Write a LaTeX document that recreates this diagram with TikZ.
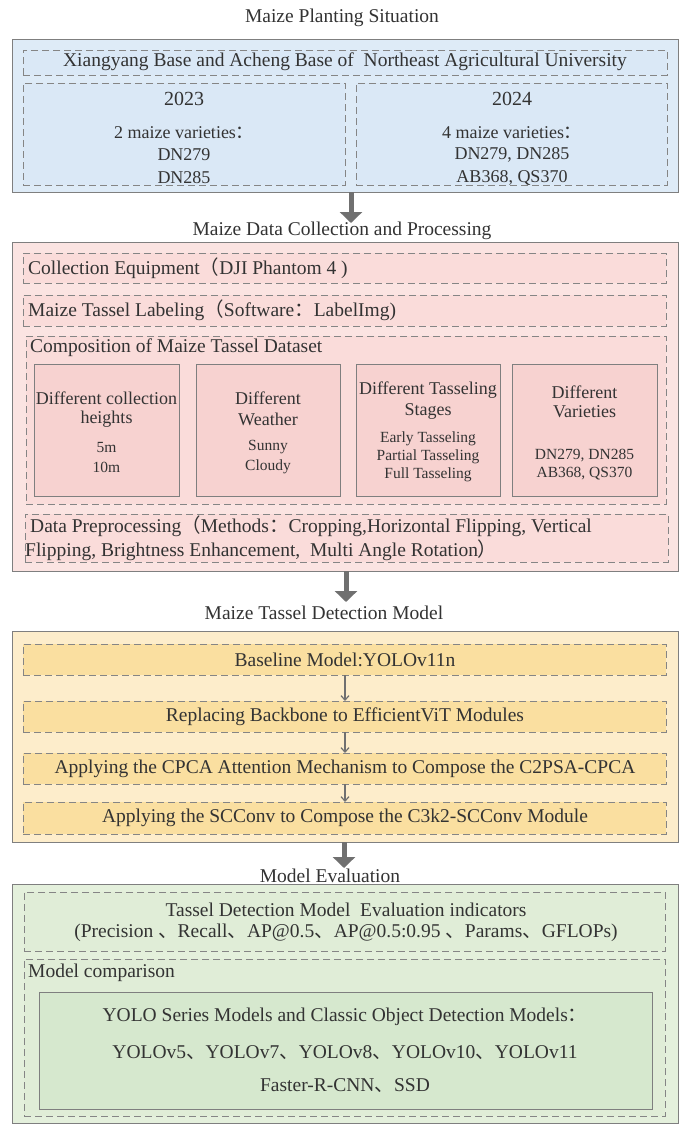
\documentclass[tikz,border=0pt]{standalone}
\usepackage{fontspec}
\setmainfont{Liberation Serif}
\newfontfamily\cjk{Noto Sans CJK SC}
\usetikzlibrary{arrows.meta,fit}
\newcommand{\zcolon}{{\cjk ：}}
\newcommand{\zlp}{{\cjk （}}
\newcommand{\zrp}{{\cjk ）}}
\newcommand{\zcomma}{{\cjk 、}}
\definecolor{edge}{HTML}{7F7F7F}
\definecolor{dashc}{HTML}{858585}
\definecolor{txt}{HTML}{333333}
\definecolor{blueO}{HTML}{DEEBF7}
\definecolor{blueI}{HTML}{DAE8F6}
\definecolor{pinkO}{HTML}{FBE4E2}
\definecolor{pinkI}{HTML}{FADCDA}
\definecolor{pinkS}{HTML}{F7D2D0}
\definecolor{yelO}{HTML}{FDEDCB}
\definecolor{yelI}{HTML}{FADFA0}
\definecolor{grnO}{HTML}{E4F0DC}
\definecolor{grnI}{HTML}{E0EDD7}
\definecolor{grnS}{HTML}{D6E8CE}
\definecolor{arr}{HTML}{707070}
\tikzset{
  box/.style={inner sep=0pt, outer sep=0pt},
  outerbox/.style={box, draw=edge, line width=1pt},
  dbox/.style={box, draw=dashc, line width=0.9pt, dash pattern=on 7pt off 4pt},
  sbox/.style={box, draw=edge, line width=0.9pt},
  tm/.style={font=\fontsize{19.5}{21}\selectfont, text=txt, inner sep=0pt},
  th/.style={font=\fontsize{18}{21}\selectfont, text=txt, inner sep=0pt},
  ts/.style={font=\fontsize{15.5}{18}\selectfont, text=txt, inner sep=0pt},
  bigarrow/.style={draw=arr, line width=5pt, -{Triangle[width=22pt,length=11pt]}},
  smallarrow/.style={draw=arr, line width=1.2pt, -{Straight Barb[width=8pt,length=4.5pt]}},
}
\begin{document}
\begin{tikzpicture}[x=1pt,y=-1pt]
\useasboundingbox[fill=white] (0,0) rectangle (689,1127);

% ---------- Section 1 ----------
\node[tm] (t1) at (342,18) {Maize Planting Situation};
\node[outerbox, fill=blueO, fit={(12,39) (678,192)}] (b1) {};
\node[dbox, fill=blueI, fit={(23,50) (667,75)}] (b1a) {};
\node[dbox, fill=blueI, fit={(23,83) (345,185)}] (b1b) {};
\node[dbox, fill=blueI, fit={(356,83) (667,185)}] (b1c) {};
\node[tm] (x1) at (345,62) {Xiangyang Base and Acheng Base of\ \ Northeast Agricultural University};
\node[tm, font=\fontsize{20}{22}\selectfont] (y23) at (184,99) {2023};
\node[th] (v23) at (184,133) {2 maize varieties\zcolon};
\node[th] (v23a) at (184,155) {DN279};
\node[th] (v23b) at (184,178) {DN285};
\node[tm, font=\fontsize{20}{22}\selectfont] (y24) at (512,99) {2024};
\node[th] (v24) at (512,133) {4 maize varieties\zcolon};
\node[th] (v24a) at (512,155) {DN279, DN285};
\node[th] (v24b) at (512,178) {AB368, QS370};

\coordinate (a1e) at (351,223);
\draw[bigarrow] (b1.south -| a1e) -- (a1e);

% ---------- Section 2 ----------
\node[tm] (t2) at (342,231) {Maize Data Collection and Processing};
\node[outerbox, fill=pinkO, fit={(12,242) (678,571)}] (b2) {};
\node[dbox, fill=pinkI, fit={(23,253) (666,283)}] (b2a) {};
\node[dbox, fill=pinkI, fit={(23,295) (666,326)}] (b2b) {};
\node[dbox, fill=pinkI, fit={(26,336) (666,504)}] (b2c) {};
\node[dbox, fill=pinkI, fit={(25,514) (668,562)}] (b2d) {};
\node[tm, anchor=west] (c1) at (28,268) {Collection Equipment\zlp DJI Phantom 4 )};
\node[tm, anchor=west] (c2) at (28,310) {Maize Tassel Labeling\zlp Software\zcolon LabelImg)};
\node[tm, anchor=west] (c3) at (30,348) {Composition of Maize Tassel Dataset};

\node[sbox, fill=pinkS, fit={(34,364) (179,496)}] (s1) {};
\node[sbox, fill=pinkS, fit={(196,364) (340,496)}] (s2) {};
\node[sbox, fill=pinkS, fit={(356,364) (500,496)}] (s3) {};
\node[sbox, fill=pinkS, fit={(512,364) (657,496)}] (s4) {};

\node[th] (s1a) at (106.5,398) {Different collection};
\node[th] (s1b) at (106.5,419) {heights};
\node[ts] (s1c) at (106.5,447) {5m};
\node[ts] (s1d) at (106.5,467) {10m};

\node[th] (s2a) at (268,398) {Different};
\node[th] (s2b) at (268,419) {Weather};
\node[ts] (s2c) at (268,447) {Sunny};
\node[ts] (s2d) at (268,467) {Cloudy};

\node[th] (s3a) at (428,390) {Different Tasseling};
\node[th] (s3b) at (428,411) {Stages};
\node[ts] (s3c) at (428,439) {Early Tasseling};
\node[ts] (s3d) at (428,457) {Partial Tasseling};
\node[ts] (s3e) at (428,475) {Full Tasseling};

\node[th] (s4a) at (584.5,392) {Different};
\node[th] (s4b) at (584.5,412) {Varieties};
\node[ts] (s4c) at (584.5,456) {DN279, DN285};
\node[ts] (s4d) at (584.5,474) {AB368, QS370};

\node[tm, anchor=west] (p1) at (30,526) {Data Preprocessing\zlp Methods\zcolon Cropping,Horizontal Flipping, Vertical};
\node[tm, anchor=west] (p2) at (25,550) {Flipping, Brightness Enhancement,\ \ Multi Angle Rotation\zrp};

\coordinate (a2e) at (346,602);
\draw[bigarrow] (b2.south -| a2e) -- (a2e);

% ---------- Section 3 ----------
\node[tm] (t3) at (324,613) {Maize Tassel Detection Model};
\node[outerbox, fill=yelO, fit={(12,631) (678,842)}] (b3) {};
\node[dbox, fill=yelI, fit={(23,644) (666,675)}] (m1) {};
\node[dbox, fill=yelI, fit={(23,701) (666,732)}] (m2) {};
\node[dbox, fill=yelI, fit={(23,753) (666,784)}] (m3) {};
\node[dbox, fill=yelI, fit={(23,802) (666,834)}] (m4) {};
\node[tm] (m1t) at (345,660) {Baseline Model:YOLOv11n};
\node[tm] (m2t) at (345,717) {Replacing Backbone to EfficientViT Modules};
\node[tm] (m3t) at (345,769) {Applying the CPCA Attention Mechanism to Compose the C2PSA-CPCA};
\node[tm] (m4t) at (345,818) {Applying the SCConv to Compose the C3k2-SCConv Module};
\coordinate (ax) at (345,0);
\draw[smallarrow] (m1.south -| ax) -- (m2.north -| ax);
\draw[smallarrow] (m2.south -| ax) -- (m3.north -| ax);
\draw[smallarrow] (m3.south -| ax) -- (m4.north -| ax);

\coordinate (a3e) at (344,868);
\draw[bigarrow] (b3.south -| a3e) -- (a3e);

% ---------- Section 4 ----------
\node[tm] (t4) at (330,876) {Model Evaluation};
\node[outerbox, fill=grnO, fit={(12,884) (678,1123)}] (b4) {};
\node[dbox, fill=grnI, fit={(24,892) (665,951)}] (e1) {};
\node[dbox, fill=grnI, fit={(24,959) (665,1116)}] (e2) {};
\node[tm, align=center] (e1a) at (346,922.5) {Tassel Detection Model\ \ Evaluation indicators\\(Precision \zcomma Recall\zcomma AP@0.5\zcomma AP@0.5:0.95 \zcomma Params\zcomma GFLOPs)};
\node[tm, anchor=west] (e2t) at (28,973) {Model comparison};
\node[sbox, fill=grnS, fit={(39,992) (652,1109)}] (e3) {};
\node[tm] (e3a) at (345,1017) {YOLO Series Models and Classic Object Detection Models\zcolon};
\node[tm] (e3b) at (345,1053) {YOLOv5\zcomma YOLOv7\zcomma YOLOv8\zcomma YOLOv10\zcomma YOLOv11};
\node[tm] (e3c) at (345,1086) {Faster-R-CNN\zcomma SSD};
\end{tikzpicture}
\end{document}
